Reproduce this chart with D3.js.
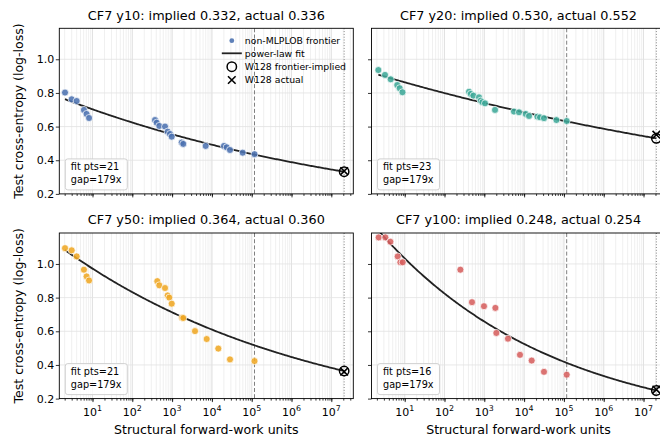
<!DOCTYPE html>
<html><head><meta charset="utf-8">
<script src="https://cdn.jsdelivr.net/npm/d3@7"></script>
<style>body{margin:0;background:#fff}svg{display:block;font-family:"DejaVu Sans",sans-serif}</style>
</head><body><svg id="c" width="660" height="437"></svg>
<script>
// ---------- data ----------
const panelNames = ["CF7 y10", "CF7 y20", "CF7 y50", "CF7 y100"];
const impliedVals = [0.332, 0.530, 0.364, 0.248];
const actualVals = [0.336, 0.552, 0.360, 0.254];
const fitExponents = [0.0515, 0.0335, 0.0675, 0.098];
const fitPoints = [21, 23, 21, 16];
const gapRatio = 179;
const frontierMaxX = 117500;
const w128X = frontierMaxX * gapRatio;

const y10X = [2.04,3.0,4.0,6.1,7.1,8.2,372,410,477,664,774,885,977,1740,1910,6980,20100,23500,28500,59400,117500];
const y10Y = [0.802,0.762,0.752,0.699,0.675,0.651,0.639,0.623,0.604,0.600,0.570,0.556,0.540,0.505,0.497,0.485,0.485,0.477,0.461,0.445,0.436];
const y20X = [2.18,3.2,4.45,6.5,7.5,8.8,413,455,532,736,813,895,1042,1860,5570,7450,11000,13300,21600,25100,31600,64900,117500];
const y20Y = [0.936,0.907,0.881,0.847,0.828,0.804,0.807,0.794,0.784,0.774,0.754,0.745,0.738,0.699,0.689,0.685,0.675,0.663,0.659,0.655,0.650,0.639,0.633];
const y50X = [2.04,3.0,4.0,6.1,7.1,8.2,425,477,664,774,851,977,1775,1910,3760,7400,14500,28500,117500];
const y50Y = [1.094,1.081,1.045,0.966,0.926,0.902,0.898,0.873,0.857,0.813,0.800,0.764,0.681,0.679,0.601,0.554,0.497,0.433,0.423];
const y100X = [2.22,3.27,4.37,6.67,7.8,8.9,251,491,982,1900,2010,3940,7890,15500,31600,117500];
const y100Y = [1.158,1.158,1.132,1.045,1.010,1.010,0.966,0.773,0.749,0.739,0.590,0.556,0.460,0.426,0.359,0.342];

const seriesX = [y10X, y20X, y50X, y100X];
const seriesY = [y10Y, y20Y, y50Y, y100Y];
const colors = ["#4c72b0", "#3fa898", "#efa724", "#d6605f"];
const yTickVals = [0.2, 0.4, 0.6, 0.8, 1.0];
const xTickExps = [1, 2, 3, 4, 5, 6, 7];
const legendLabels = ["non-MLPLOB frontier", "power-law fit", "W128 frontier-implied", "W128 actual"];

// ---------- layout ----------
const svg = d3.select("#c");
const colX = [59.3, 371.5], rowY = [28.3, 233.0];
const W = 294, H = 165.6;
const x = d3.scaleLog().domain([1.466, 3.57e7]).range([0, W]);
const y = d3.scaleLinear().domain([0.2, 1.184]).range([H, 0]);
const [dx0, dx1] = x.domain();
const minorVals = [];
for (let k = 0; k <= 7; k++) for (let m = 1; m <= 9; m++) {
  const v = m * Math.pow(10, k);
  if (v >= dx0 && v <= dx1) minorVals.push(v);
}
const majorVals = xTickExps.map(e => Math.pow(10, e));
const tickFont = 11;

panelNames.forEach((name, i) => {
  const col = i % 2, row = Math.floor(i / 2);
  const g = svg.append("g").attr("transform", `translate(${colX[col]},${rowY[row]})`);
  const clipId = "clip" + i;
  g.append("clipPath").attr("id", clipId).append("rect").attr("width", W).attr("height", H);
  const inner = g.append("g").attr("clip-path", `url(#${clipId})`);

  // grid
  inner.selectAll(".mg").data(minorVals).join("line")
    .attr("x1", d => x(d)).attr("x2", d => x(d)).attr("y1", 0).attr("y2", H)
    .attr("stroke", "#e9e9e9").attr("stroke-width", 0.7);
  inner.selectAll(".Mg").data(majorVals).join("line")
    .attr("x1", d => x(d)).attr("x2", d => x(d)).attr("y1", 0).attr("y2", H)
    .attr("stroke", "#dedede").attr("stroke-width", 0.8);
  inner.selectAll(".yg").data(yTickVals).join("line")
    .attr("x1", 0).attr("x2", W).attr("y1", d => y(d)).attr("y2", d => y(d))
    .attr("stroke", "#e2e2e2").attr("stroke-width", 0.8);

  // reference lines
  inner.append("line").attr("x1", x(frontierMaxX)).attr("x2", x(frontierMaxX)).attr("y1", 0).attr("y2", H)
    .attr("stroke", "#808080").attr("stroke-width", 1).attr("stroke-dasharray", "4,2.2");
  inner.append("line").attr("x1", x(w128X)).attr("x2", x(w128X)).attr("y1", 0).attr("y2", H)
    .attr("stroke", "#808080").attr("stroke-width", 1).attr("stroke-dasharray", "1,1.8");

  // fit curve
  const xs = seriesX[i], ys = seriesY[i];
  const lo = Math.log10(d3.min(xs)), hi = Math.log10(w128X);
  const fitSamples = d3.range(0, 241).map(j => Math.pow(10, lo + (hi - lo) * j / 240));
  const fitFn = v => impliedVals[i] * Math.pow(v / w128X, -fitExponents[i]);
  inner.append("path").datum(fitSamples)
    .attr("d", d3.line().x(d => x(d)).y(d => y(fitFn(d))))
    .attr("fill", "none").attr("stroke", "#222").attr("stroke-width", 1.8);

  // points
  inner.selectAll(".pt").data(xs.map((v, j) => [v, ys[j]])).join("circle")
    .attr("cx", d => x(d[0])).attr("cy", d => y(d[1])).attr("r", 3.5)
    .attr("fill", colors[i]).attr("fill-opacity", 0.88)
    .attr("stroke", "#fff").attr("stroke-width", 0.7);

  // W128 markers
  g.append("circle").attr("cx", x(w128X)).attr("cy", y(impliedVals[i])).attr("r", 4.7)
    .attr("fill", "none").attr("stroke", "#000").attr("stroke-width", 1.5);
  const ax = x(w128X), ay = y(actualVals[i]), s = 3.8;
  g.append("path").attr("d", `M${ax - s},${ay - s}L${ax + s},${ay + s}M${ax - s},${ay + s}L${ax + s},${ay - s}`)
    .attr("stroke", "#000").attr("stroke-width", 1.6).attr("fill", "none");

  // spines
  g.append("rect").attr("width", W).attr("height", H).attr("fill", "none")
    .attr("stroke", "#000").attr("stroke-width", 0.9);

  // x axis ticks
  const xAxisMinor = d3.axisBottom(x).tickValues(minorVals).tickSize(2).tickFormat("");
  const xAxisMajor = d3.axisBottom(x).tickValues(majorVals).tickSize(3.5).tickFormat("");
  [xAxisMinor, xAxisMajor].forEach(ax2 => {
    const a = g.append("g").attr("transform", `translate(0,${H})`).call(ax2);
    a.select(".domain").remove();
    a.selectAll("line").attr("stroke", "#000").attr("stroke-width", 0.8);
  });
  if (row === 1) {
    majorVals.forEach((v, k) => {
      const t = g.append("text").attr("x", x(v)).attr("y", H + 17.5).attr("text-anchor", "middle")
        .attr("font-size", tickFont).attr("fill", "#000");
      t.append("tspan").text("10");
      t.append("tspan").attr("font-size", tickFont * 0.72).attr("dy", -4.8).text(String(xTickExps[k]));
    });
    g.append("text").attr("x", W / 2).attr("y", H + 35.5).attr("text-anchor", "middle")
      .attr("font-size", 12.6).text("Structural forward-work units");
  }
  // y axis ticks
  const yAxis = d3.axisLeft(y).tickValues(yTickVals).tickSize(3.5)
    .tickFormat(col === 0 ? d3.format(".1f") : "");
  const ya = g.append("g").call(yAxis);
  ya.select(".domain").remove();
  ya.selectAll("line").attr("stroke", "#000").attr("stroke-width", 0.8);
  ya.selectAll("text").attr("font-size", tickFont).attr("font-family", "DejaVu Sans").attr("fill", "#000").attr("x", -5);
  if (col === 0) {
    g.append("text").attr("transform", `translate(${22.5 - colX[0]},${H / 2}) rotate(-90)`)
      .attr("text-anchor", "middle").attr("font-size", 12.5).text("Test cross-entropy (log-loss)");
  }

  // title
  g.append("text").attr("x", W / 2).attr("y", -8.6).attr("text-anchor", "middle")
    .attr("font-size", 12.8)
    .text(`${name}: implied ${impliedVals[i].toFixed(3)}, actual ${actualVals[i].toFixed(3)}`);

  // fit box
  const bx = 6, by = H - 35, bw = 62, bh = 31;
  g.append("rect").attr("x", bx).attr("y", by).attr("width", bw).attr("height", bh).attr("rx", 2.5)
    .attr("fill", "#fff").attr("fill-opacity", 0.8).attr("stroke", "#cccccc").attr("stroke-width", 0.9);
  g.append("text").attr("x", bx + 5.5).attr("y", by + 11.5).attr("font-size", 9.7).text(`fit pts=${fitPoints[i]}`);
  g.append("text").attr("x", bx + 5.5).attr("y", by + 24.5).attr("font-size", 9.7).text(`gap=${gapRatio}x`);

  // legend
  if (i === 0) {
    const lx = 172.5, ly = [12.4, 25, 38.4, 51.7], tx = 185.5;
    const lg = g.append("g");
    lg.append("circle").attr("cx", lx).attr("cy", ly[0]).attr("r", 2.4).attr("fill", colors[0]).attr("fill-opacity", 0.9);
    lg.append("line").attr("x1", lx - 10).attr("x2", lx + 10).attr("y1", ly[1]).attr("y2", ly[1])
      .attr("stroke", "#222").attr("stroke-width", 1.8);
    lg.append("circle").attr("cx", lx).attr("cy", ly[2]).attr("r", 4.7).attr("fill", "none")
      .attr("stroke", "#000").attr("stroke-width", 1.5);
    lg.append("path").attr("d", `M${lx - s},${ly[3] - s}L${lx + s},${ly[3] + s}M${lx - s},${ly[3] + s}L${lx + s},${ly[3] - s}`)
      .attr("stroke", "#000").attr("stroke-width", 1.6);
    legendLabels.forEach((t, k) => {
      lg.append("text").attr("x", tx).attr("y", ly[k] + 3.3).attr("font-size", 9.3).text(t);
    });
  }
});
</script></body></html>
